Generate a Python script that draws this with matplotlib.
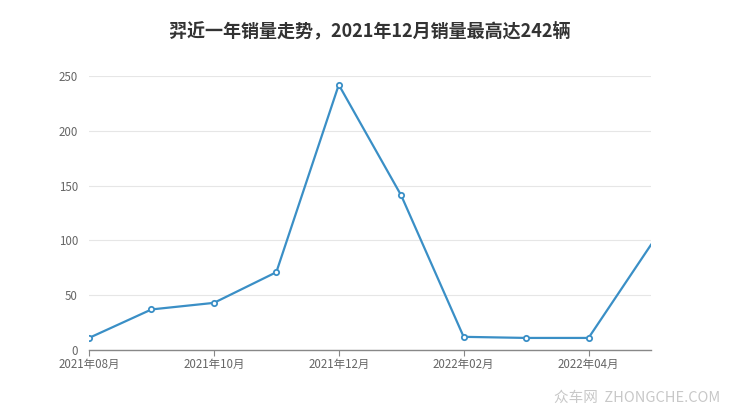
import matplotlib
matplotlib.use("Agg")
import matplotlib.pyplot as plt

plt.rcParams['font.family'] = ['Noto Sans CJK SC', 'DejaVu Sans']

months = ["2021年08月", "2021年09月", "2021年10月", "2021年11月", "2021年12月",
          "2022年01月", "2022年02月", "2022年03月", "2022年04月", "2022年05月"]
sales = [11, 37, 43, 71, 242, 141, 12, 11, 11, 96]
yticks = [0, 50, 100, 150, 200, 250]
title = "羿近一年销量走势，2021年12月销量最高达242辆"

fig = plt.figure(figsize=(7.4, 4.17), dpi=100)
ax = fig.add_axes([0.1203, 0.1607, 0.7594, 0.657])
x = list(range(len(months)))
ax.plot(x, sales, color="#3a8fc6", lw=1.6, zorder=3)
ax.plot(x[:-1], sales[:-1], ls="none", marker="o", ms=3.8, mfc="white",
        mec="#3a8fc6", mew=1.3, zorder=4)
ax.set_xlim(0, len(months) - 1)
ax.set_ylim(0, 250)
ax.set_yticks(yticks)
ax.set_yticklabels([str(v) for v in yticks])
ax.set_xticks(x[::2])
ax.set_xticklabels(months[::2])
ax.grid(axis="y", color="#e6e6e6", lw=0.8)
ax.set_axisbelow(True)
for s in ["top", "right", "left"]:
    ax.spines[s].set_visible(False)
ax.spines["bottom"].set_color("#888888")
ax.spines["bottom"].set_linewidth(1.0)
ax.tick_params(axis="y", length=0, labelsize=8.3, colors="#666666", pad=8)
ax.tick_params(axis="x", length=4, color="#888888", labelsize=8.3, labelcolor="#666666", pad=2)

fig.text(0.5, 1 - 31 / 417, title, ha="center", va="center", fontsize=13,
         fontweight="bold", color="#333333")
fig.text(0.973, 1 - 398 / 417, "众车网  ZHONGCHE.COM", ha="right", va="center",
         fontsize=10.5, color="#c8c8c8")
fig.savefig("out.png", dpi=100)
